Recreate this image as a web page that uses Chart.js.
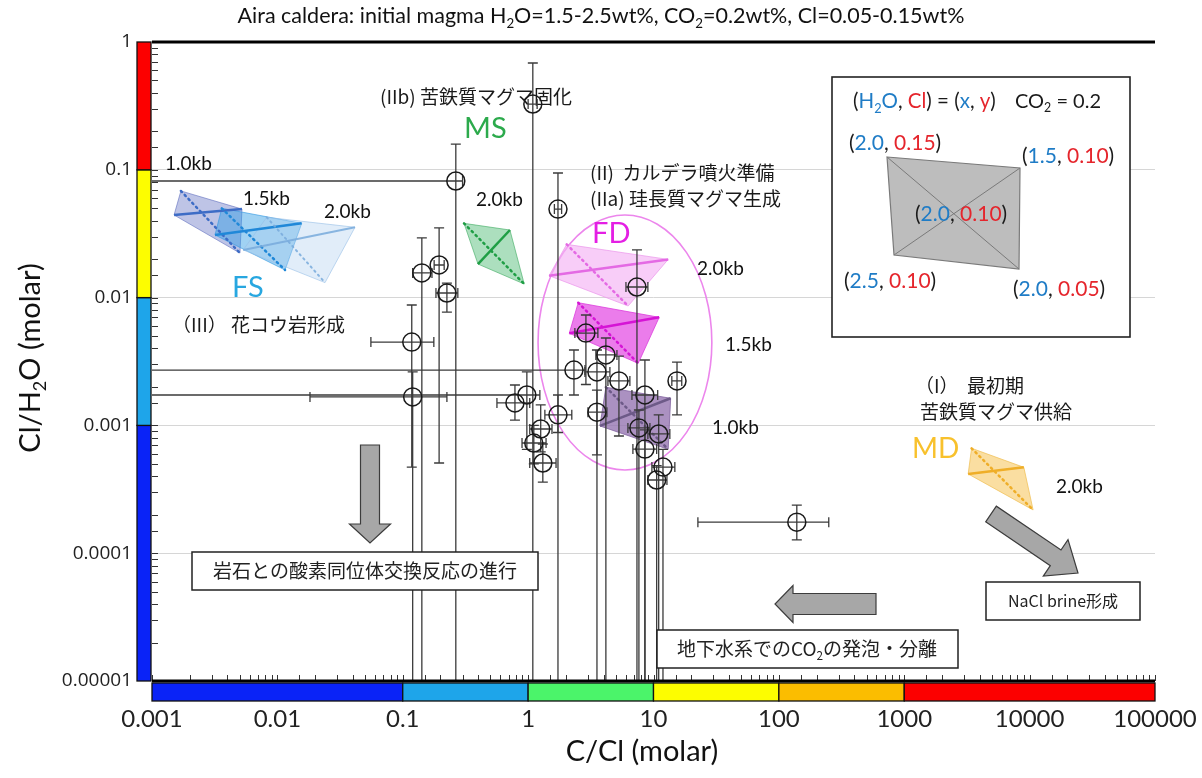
<!DOCTYPE html>
<html>
<head>
<meta charset="utf-8">
<script src="https://cdn.jsdelivr.net/npm/chart.js@4.4.1/dist/chart.umd.min.js"></script>
<style>
  html, body { margin: 0; padding: 0; background: #fff; }
  #wrap { width: 1202px; height: 778px; }
</style>
</head>
<body>
<div id="wrap"><canvas id="c" width="1202" height="778"></canvas></div>
<script>
// ---- tick labels ----
const xTickLabels = ['0.001', '0.01', '0.1', '1', '10', '100', '1000', '10000', '100000'];
const yTickLabels = ['0.00001', '0.0001', '0.001', '0.01', '0.1', '1'];

// ---- colour bands along the axes (edges in axis units) ----
const xBandEdges = [0.001, 0.1, 1, 10, 100, 1000, 100000];
const xBandColors = ['#0a23f7', '#1ea5ea', '#4bf46a', '#fdfd00', '#fbbd00', '#fc0000'];
const yBandEdges = [0.00001, 0.001, 0.01, 0.1, 1];
const yBandColors = ['#0a23f7', '#1ea5ea', '#fdfd00', '#fc0000'];

// ---- measured fumarole gas samples ----
const cc    = [1.09, 0.265, 1.73, 0.195, 0.142, 0.225, 0.118, 0.120, 0.785, 0.977,
               7.38, 2.89, 4.17, 2.32, 3.54, 5.30, 8.54, 15.4, 1.73, 3.54,
               1.26, 7.65, 11.0, 1.11, 8.54, 1.31, 11.9, 10.6, 139];
const ccLo  = [1.00, 0.0001, 1.62, 0.178, 0.120, 0.184, 0.0557, 0.0182, 0.564, 0.0001,
               6.03, 2.36, 3.47, 0.0001, 2.84, 4.33, 6.73, 14.0, 1.36, 3.00,
               1.03, 6.25, 9.02, 0.894, 6.85, 1.03, 9.71, 9.02, 22.6];
const ccHi  = [1.18, 0.300, 1.85, 0.214, 0.171, 0.275, 0.177, 0.225, 1.03, 1.24,
               9.02, 3.60, 5.11, 2.84, 4.49, 6.48, 10.8, 16.8, 2.23, 4.25,
               1.55, 9.36, 13.5, 1.39, 10.6, 1.67, 14.8, 12.8, 250];
const clh   = [0.327, 0.0817, 0.0493, 0.0180, 0.0156, 0.01086, 0.00449, 0.00167, 0.00150, 0.00173,
               0.0121, 0.00528, 0.00356, 0.00271, 0.00262, 0.00223, 0.00173, 0.00223, 0.00121, 0.00127,
               0.000937, 0.000955, 0.000857, 0.000728, 0.000653, 0.000508, 0.000472, 0.000374, 0.000175];
const clhLo = [0.000001, 0.000001, 0.000001, 0.000508, 0.000001, 0.00771, 0.000472, 0.000001, 0.00110, 0.00065,
               0.000001, 0.00209, 0.000001, 0.00173, 0.000001, 0.000826, 0.000001, 0.00121, 0.00088, 0.000587,
               0.00062, 0.000001, 0.000001, 0.00050, 0.000001, 0.00036, 0.000001, 0.000001, 0.000127];
const clhHi = [0.685, 0.159, 0.0944, 0.0351, 0.0293, 0.0130, 0.00875, 0.00262, 0.00207, 0.00262,
               0.0236, 0.00731, 0.00483, 0.00389, 0.00389, 0.00349, 0.00325, 0.00313, 0.00173, 0.00189,
               0.00145, 0.00132, 0.00121, 0.00100, 0.000921, 0.000715, 0.00065, 0.000485, 0.000238];

// ---- model envelopes: corners (C/Cl, Cl/H2O) for
//      [H2O 2.0 / Cl 0.15], [1.5 / 0.10], [2.0 / 0.05], [2.5 / 0.10]
const fs10 = [[0.00170, 0.0683], [0.00522, 0.0493], [0.00503, 0.0223], [0.00150, 0.0443]];
const fs15 = [[0.00360, 0.0500], [0.01563, 0.0381], [0.01151, 0.01644], [0.00318, 0.0309]];
const fs20 = [[0.00822, 0.0425], [0.0416, 0.0355], [0.0240, 0.0131], [0.00534, 0.0236]];
const ms20 = [[0.308, 0.0381], [0.716, 0.0338], [0.931, 0.01277], [0.398, 0.0183]];
const fd20 = [[2.03, 0.0261], [13.1, 0.0199], [6.28, 0.0086], [1.47, 0.01484]];
const fd15 = [[2.51, 0.00912], [11.1, 0.00701], [7.55, 0.00306], [2.13, 0.00526]];
const fd10 = [[4.17, 0.00199], [13.7, 0.00163], [13.1, 0.00065], [3.74, 0.00099]];
const md20 = [[3443, 0.000662], [8990, 0.00047], [10660, 0.000218], [3235, 0.000417]];

// FD field outline (extent in axis units)
const fdFieldX = [1.2, 29.2];
const fdFieldY = [0.000448, 0.0443];

const JP = '"Noto Sans CJK JP", "Noto Sans", sans-serif';
const LT = 'Lato, "Open Sans", sans-serif';

function quadSets(v, fill, edge, line, lw) {
  const p = v.map(q => ({ x: q[0], y: q[1] }));
  const base = { type: 'line', pointRadius: 0, tension: 0, fill: false };
  return [
    Object.assign({}, base, { data: [p[3], p[1]], borderColor: line, borderWidth: lw, order: 2 }),
    Object.assign({}, base, { data: [p[0], p[2]], borderColor: line, borderWidth: lw, borderDash: [1.5, 4], borderCapStyle: 'round', order: 2 }),
    Object.assign({}, base, { data: [p[0], p[1], p[2], p[3], p[0]], borderColor: edge, borderWidth: 1, backgroundColor: fill, fill: 'shape', order: 3 })
  ];
}

function rich(ctx, parts, x, y, size, family, align) {
  let w = 0;
  parts.forEach(p => {
    ctx.font = (p.b ? 'bold ' : '') + (p.s ? size * 0.62 : size) + 'px ' + family;
    p.w = ctx.measureText(p.t).width; w += p.w;
  });
  let cx = align === 'center' ? x - w / 2 : (align === 'right' ? x - w : x);
  ctx.textAlign = 'left';
  ctx.textBaseline = 'alphabetic';
  parts.forEach(p => {
    ctx.font = (p.b ? 'bold ' : '') + (p.s ? size * 0.62 : size) + 'px ' + family;
    ctx.fillStyle = p.c || '#111';
    ctx.fillText(p.t, cx, p.s ? y + size * 0.22 : y);
    cx += p.w;
  });
}

function arrow(ctx, x1, y1, x2, y2, sw, hw, hl) {
  const dx = x2 - x1, dy = y2 - y1, L = Math.hypot(dx, dy);
  const ux = dx / L, uy = dy / L, nx = -uy, ny = ux;
  const bx = x2 - ux * hl, by = y2 - uy * hl;
  const pts = [
    [x1 + nx * sw / 2, y1 + ny * sw / 2], [bx + nx * sw / 2, by + ny * sw / 2], [bx + nx * hw / 2, by + ny * hw / 2],
    [x2, y2], [bx - nx * hw / 2, by - ny * hw / 2], [bx - nx * sw / 2, by - ny * sw / 2], [x1 - nx * sw / 2, y1 - ny * sw / 2]
  ];
  ctx.beginPath();
  pts.forEach((q, i) => i ? ctx.lineTo(q[0], q[1]) : ctx.moveTo(q[0], q[1]));
  ctx.closePath();
  ctx.fillStyle = '#a7a7a7'; ctx.fill();
  ctx.strokeStyle = '#3c3c3c'; ctx.lineWidth = 1.2; ctx.stroke();
}

function textBox(ctx, x, y, w, h) {
  ctx.fillStyle = '#fff';
  ctx.fillRect(x, y, w, h);
  ctx.strokeStyle = '#222'; ctx.lineWidth = 1.5;
  ctx.strokeRect(x, y, w, h);
}

// error bars for the sample points, drawn just before the circles
const errorBars = {
  id: 'errorBars',
  beforeDatasetDraw(chart, args) {
    if (args.index !== 0) return;
    const { ctx, chartArea: a, scales: { x, y } } = chart;
    ctx.save();
    ctx.beginPath(); ctx.rect(a.left, a.top, a.right - a.left, a.bottom - a.top); ctx.clip();
    ctx.strokeStyle = '#3b3b3b'; ctx.lineWidth = 1.3;
    const cap = 5;
    for (let i = 0; i < cc.length; i++) {
      const px = x.getPixelForValue(cc[i]), py = y.getPixelForValue(clh[i]);
      const y1 = y.getPixelForValue(clhLo[i]), y2 = y.getPixelForValue(clhHi[i]);
      const x1 = x.getPixelForValue(ccLo[i]), x2 = x.getPixelForValue(ccHi[i]);
      ctx.beginPath();
      ctx.moveTo(px, y1); ctx.lineTo(px, y2);
      ctx.moveTo(px - cap, y2); ctx.lineTo(px + cap, y2);
      if (y1 < a.bottom) { ctx.moveTo(px - cap, y1); ctx.lineTo(px + cap, y1); }
      ctx.moveTo(x1, py); ctx.lineTo(x2, py);
      ctx.moveTo(x2, py - cap); ctx.lineTo(x2, py + cap);
      if (x1 > a.left) { ctx.moveTo(x1, py - cap); ctx.lineTo(x1, py + cap); }
      ctx.stroke();
    }
    ctx.restore();
  }
};

// FD field ellipse and stage notes, behind the data
const underlay = {
  id: 'underlay',
  beforeDatasetsDraw(chart) {
    const { ctx, scales: { x, y } } = chart;
    const l = x.getPixelForValue(fdFieldX[0]), r = x.getPixelForValue(fdFieldX[1]);
    const t = y.getPixelForValue(fdFieldY[1]), b = y.getPixelForValue(fdFieldY[0]);
    ctx.save();
    ctx.beginPath();
    ctx.ellipse((l + r) / 2, (t + b) / 2, (r - l) / 2, (b - t) / 2, 0, 0, Math.PI * 2);
    ctx.strokeStyle = '#ec86ec'; ctx.lineWidth = 1.6; ctx.stroke();

    const jp = (s, px, py) => rich(ctx, [{ t: s, c: '#1a1a1a' }], px, py, 19, JP, 'left');
    jp('(IIb) 苦鉄質マグマ固化', 380, 104);
    jp('(II)  カルデラ噴火準備', 590, 180);
    jp('(IIa) 珪長質マグマ生成', 590, 206);
    jp('（III） 花コウ岩形成', 172, 332);
    jp('（I）  最初期', 915, 393);
    jp('苦鉄質マグマ供給', 920, 419);
    ctx.restore();
  }
};

// labels, arrows, boxes and the key panel
const notes = {
  id: 'notes',
  afterDatasetsDraw(chart) {
    const ctx = chart.ctx;
    ctx.save();
    // envelope labels
    const kb = (t, x, y) => rich(ctx, [{ t }], x, y, 19, LT, 'left');
    kb('1.0kb', 165, 170); kb('1.5kb', 243, 205); kb('2.0kb', 324, 218);
    kb('2.0kb', 476, 206);
    kb('2.0kb', 697, 275); kb('1.5kb', 725, 351); kb('1.0kb', 712, 434);
    kb('2.0kb', 1056, 493);
    rich(ctx, [{ t: 'FS', c: '#28a7e0' }], 232, 297, 29, LT, 'left');
    rich(ctx, [{ t: 'MS', c: '#2caa4c' }], 464, 138, 29, LT, 'left');
    rich(ctx, [{ t: 'FD', c: '#e41fe4' }], 592, 243, 29, LT, 'left');
    rich(ctx, [{ t: 'MD', c: '#f8c12c' }], 912, 458, 28, LT, 'left');

    // process arrows and captions
    arrow(ctx, 370, 445, 370, 543, 19, 41, 19);
    arrow(ctx, 876, 604, 775, 604, 21, 37, 18);
    arrow(ctx, 991, 514, 1078, 573, 19, 44, 27);
    textBox(ctx, 192, 552, 346, 38);
    rich(ctx, [{ t: '岩石との酸素同位体交換反応の進行', c: '#222' }], 365, 578, 19, JP, 'center');
    textBox(ctx, 657, 630, 301, 38);
    rich(ctx, [{ t: '地下水系での', c: '#222' }, { t: 'CO', c: '#222' }, { t: '2', s: 1, c: '#222' }, { t: 'の発泡・分離', c: '#222' }], 807, 656, 19, JP, 'center');
    textBox(ctx, 986, 582, 154, 38);
    rich(ctx, [{ t: 'NaCl brine形成', c: '#222' }], 1063, 607, 16, JP, 'center');

    // key panel
    ctx.fillStyle = '#fff'; ctx.fillRect(832, 77, 298, 260);
    ctx.strokeStyle = '#222'; ctx.lineWidth = 1.6; ctx.strokeRect(832, 77, 298, 260);
    const B = '#1f7cc6', R = '#e5252c', K = '#1a1a1a';
    rich(ctx, [{ t: '(', c: K }, { t: 'H', c: B }, { t: '2', s: 1, c: B }, { t: 'O', c: B }, { t: ', ', c: K }, { t: 'Cl', c: R },
               { t: ') = (', c: K }, { t: 'x', c: B }, { t: ', ', c: K }, { t: 'y', c: R }, { t: ')', c: K }], 853, 108, 20.5, LT, 'left');
    rich(ctx, [{ t: 'CO', c: K }, { t: '2', s: 1, c: K }, { t: ' = 0.2', c: K }], 1015, 108, 20, LT, 'left');
    const q = [[887, 157], [1020, 168], [1019, 269], [894, 255]];
    ctx.beginPath(); q.forEach((p, i) => i ? ctx.lineTo(p[0], p[1]) : ctx.moveTo(p[0], p[1])); ctx.closePath();
    ctx.fillStyle = '#bdbdbd'; ctx.fill(); ctx.strokeStyle = '#7a7a7a'; ctx.lineWidth = 1.2; ctx.stroke();
    ctx.beginPath(); ctx.moveTo(q[0][0], q[0][1]); ctx.lineTo(q[2][0], q[2][1]);
    ctx.moveTo(q[1][0], q[1][1]); ctx.lineTo(q[3][0], q[3][1]); ctx.lineWidth = 1; ctx.stroke();
    const pair = (a, b, x, y) => rich(ctx, [{ t: '(', c: K }, { t: a, c: B }, { t: ', ', c: K }, { t: b, c: R }, { t: ')', c: K }], x, y, 21, LT, 'left');
    pair('2.0', '0.15', 849, 150);
    pair('1.5', '0.10', 1022, 163);
    pair('2.0', '0.10', 915, 221);
    pair('2.5', '0.10', 844, 288);
    pair('2.0', '0.05', 1013, 296);
    ctx.restore();
  },
  afterDraw(chart) {
    const { ctx, chartArea: a, scales: { x, y } } = chart;
    ctx.save();
    // minor/major tick marks pointing into the plot
    ctx.strokeStyle = '#333'; ctx.lineWidth = 1;
    ctx.beginPath();
    y.ticks.forEach(t => { const py = Math.round(y.getPixelForValue(t.value)) + 0.5; ctx.moveTo(a.left, py); ctx.lineTo(a.left + 6, py); });
    x.ticks.forEach(t => { const px = Math.round(x.getPixelForValue(t.value)) + 0.5; ctx.moveTo(px, a.bottom); ctx.lineTo(px, a.bottom - 6); });
    ctx.stroke();
    // plot frame (top and bottom rules)
    ctx.strokeStyle = '#000';
    ctx.lineWidth = 3;
    ctx.beginPath(); ctx.moveTo(a.left, a.top); ctx.lineTo(a.right, a.top); ctx.moveTo(a.left, a.bottom); ctx.lineTo(a.right, a.bottom); ctx.stroke();
    // colour bands
    ctx.lineWidth = 1.3; ctx.strokeStyle = '#111';
    for (let i = 0; i < yBandColors.length; i++) {
      const t = y.getPixelForValue(yBandEdges[i + 1]), b = y.getPixelForValue(yBandEdges[i]);
      ctx.fillStyle = yBandColors[i];
      ctx.fillRect(a.left - 15, t, 14, b - t);
      ctx.strokeRect(a.left - 15, t, 14, b - t);
    }
    for (let i = 0; i < xBandColors.length; i++) {
      const l = x.getPixelForValue(xBandEdges[i]), r = x.getPixelForValue(xBandEdges[i + 1]);
      ctx.fillStyle = xBandColors[i];
      ctx.fillRect(l, a.bottom + 2, r - l, 18);
      ctx.strokeRect(l, a.bottom + 2, r - l, 18);
    }
    // titles
    rich(ctx, [{ t: 'Aira caldera: initial magma H' }, { t: '2', s: 1 }, { t: 'O=1.5-2.5wt%, CO' }, { t: '2', s: 1 }, { t: '=0.2wt%, Cl=0.05-0.15wt%' }], 601, 23, 21.5, LT, 'center');
    rich(ctx, [{ t: 'C/Cl (molar)' }], 642, 761, 29, LT, 'center');
    ctx.translate(40, 358); ctx.rotate(-Math.PI / 2);
    rich(ctx, [{ t: 'Cl/H' }, { t: '2', s: 1 }, { t: 'O (molar)' }], 0, 0, 29, LT, 'center');
    ctx.restore();
  }
};

const datasets = [{
  type: 'scatter',
  data: cc.map((v, i) => ({ x: v, y: clh[i] })),
  pointRadius: 9, pointHoverRadius: 9, pointBorderWidth: 1.5,
  borderColor: '#1a1a1a', backgroundColor: 'rgba(0,0,0,0)', order: 0
}].concat(
  quadSets(fs20, 'rgba(175,208,240,0.38)', 'rgba(150,190,230,0.6)', 'rgba(120,170,220,0.85)', 2),
  quadSets(fs15, 'rgba(45,155,228,0.45)', 'rgba(45,150,225,0.6)', '#2088d8', 2.5),
  quadSets(fs10, 'rgba(110,125,200,0.45)', 'rgba(95,110,190,0.6)', '#3d6cc6', 2.5),
  quadSets(ms20, 'rgba(70,185,110,0.45)', 'rgba(60,170,95,0.6)', '#1f9e45', 2.5),
  quadSets(fd20, 'rgba(244,178,244,0.65)', 'rgba(235,150,235,0.7)', '#e46ae4', 2.5),
  quadSets(fd15, 'rgba(228,80,228,0.75)', 'rgba(220,60,220,0.8)', '#d514d5', 2.5),
  quadSets(fd10, 'rgba(150,118,178,0.8)', 'rgba(130,100,160,0.8)', '#6d5a88', 2.5),
  quadSets(md20, 'rgba(248,205,110,0.65)', 'rgba(240,190,80,0.7)', '#efae28', 2.5)
);

new Chart(document.getElementById('c'), {
  type: 'scatter',
  data: { datasets },
  options: {
    responsive: false,
    animation: false,
    devicePixelRatio: 1,
    layout: { padding: { top: 42, right: 47, left: 0, bottom: 0 } },
    plugins: { legend: { display: false }, tooltip: { enabled: false }, title: { display: false } },
    scales: {
      x: {
        type: 'logarithmic', min: 0.001, max: 100000, position: 'bottom',
        grid: { display: false, drawTicks: false },
        border: { display: false },
        afterFit: s => { s.height = 97; s.paddingLeft = 0; s.paddingRight = 0; },
        ticks: {
          autoSkip: false, maxRotation: 0, padding: 24, color: '#222',
          font: { family: 'Lato', size: 24 },
          callback: v => { const e = Math.log10(v); return Math.abs(e - Math.round(e)) < 1e-6 ? xTickLabels[Math.round(e) + 3] : ''; }
        }
      },
      y: {
        type: 'logarithmic', min: 0.00001, max: 1, position: 'left',
        grid: {
          drawTicks: false, lineWidth: 1,
          color: c => { const e = Math.log10(c.tick.value); return Math.abs(e - Math.round(e)) < 1e-6 ? '#d6d6d6' : 'rgba(0,0,0,0)'; }
        },
        border: { display: false },
        afterFit: s => { s.width = 152; s.paddingTop = 0; s.paddingBottom = 0; },
        ticks: {
          autoSkip: false, padding: 20, color: '#222',
          font: { family: 'Open Sans', size: 19 },
          callback: v => { const e = Math.log10(v); return Math.abs(e - Math.round(e)) < 1e-6 ? yTickLabels[Math.round(e) + 5] : ''; }
        }
      }
    }
  },
  plugins: [errorBars, underlay, notes]
});
</script>
</body>
</html>
